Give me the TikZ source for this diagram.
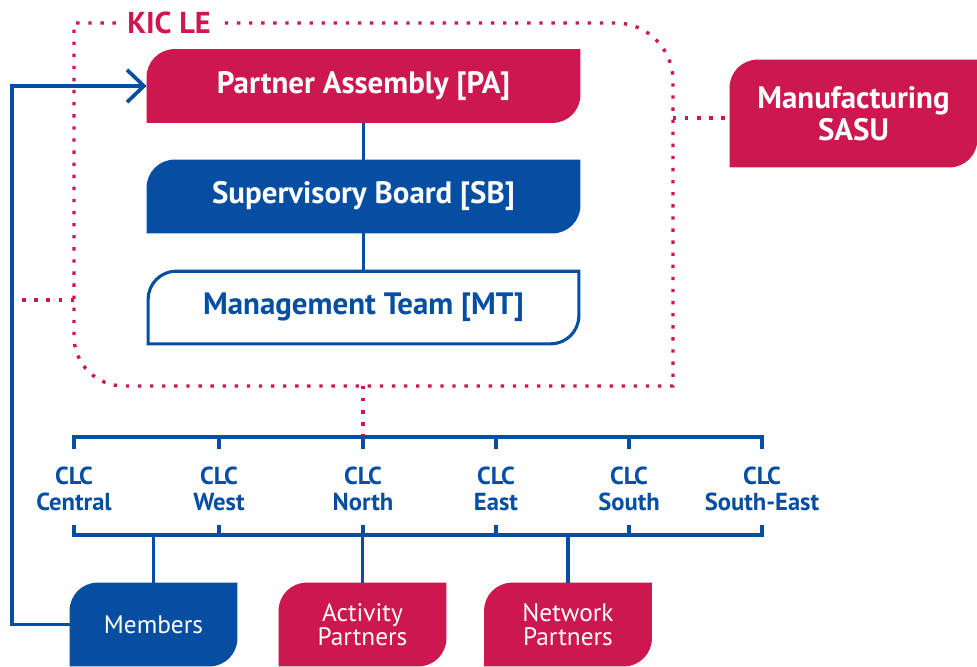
\documentclass[tikz,border=0pt]{standalone}
\usepackage{fontspec}
\setmainfont{PT Sans}
\usepackage{tikz}
\usetikzlibrary{arrows.meta,positioning,backgrounds}

\definecolor{kicred}{RGB}{204,24,78}
\definecolor{kicblue}{RGB}{5,78,162}

\tikzset{
  board/.style={minimum width=10.83cm, minimum height=1.83cm, inner sep=0pt, font=\fontsize{22}{24}\selectfont\bfseries},
  leaf/.style={minimum width=4.18cm, minimum height=2.08cm, inner sep=0pt, text=white, align=center, font=\fontsize{18}{17.5}\selectfont},
  clc/.style={align=center, inner sep=0pt, text=kicblue, font=\fontsize{17.5}{18}\selectfont\bfseries},
  bus/.style={kicblue, line width=3pt},
  wire/.style={kicblue, line width=2.6pt},
  kicdots/.style={kicred, line width=2.4pt, dash pattern=on 2.4pt off 6.2pt},
}
\newcommand{\cornerbox}[2]{%
  \path[#2] (#1.south west) [rounded corners=0.7cm] -- (#1.north west) [sharp corners] -- (#1.north east) [rounded corners=0.7cm] -- (#1.south east) [sharp corners] -- cycle;}

\begin{document}
\begin{tikzpicture}[x=0.025cm, y=-0.025cm]
   \useasboundingbox (0,0) rectangle (977,666);

   \node[board, text=white] (pa) at (363.5,86) {Partner Assembly [PA]};
   \node[board, text=white] (sb) at (363.5,196.5) {Supervisory Board [SB]};
   \node[board, text=kicblue, minimum width=10.75cm, minimum height=1.8cm] (mt) at (363.5,307.5) {Management Team [MT]};
   \node[leaf, minimum width=6.18cm, minimum height=2.68cm, font=\fontsize{22}{22.5}\selectfont\bfseries] (sasu) at (853.5,113.5) {Manufacturing\\SASU};
   \node[text=kicred, inner xsep=8pt, font=\fontsize{21.5}{23}\selectfont\bfseries] (kic) at (169,23) {KIC LE};

   \node[clc] (clcc) at (74,489) {CLC\\Central};
   \node[clc] (clcw) at (219,489) {CLC\\West};
   \node[clc] (clcn) at (363,489) {CLC\\North};
   \node[clc] (clce) at (496,489) {CLC\\East};
   \node[clc] (clcs) at (629,489) {CLC\\South};
   \node[clc] (clcse) at (762,489) {CLC\\South-East};

   \node[leaf] (members) at (153.5,624.5) {Members};
   \node[leaf] (activity) at (362.5,624.5) {Activity\\Partners};
   \node[leaf] (network) at (568,624.5) {Network\\Partners};

   \coordinate (kicright) at (673,118);
   \coordinate (kicbottom) at (363,386);
   \coordinate (kicleft) at (74,300);
   \coordinate (feedback) at (12,300);
   \coordinate (topbus) at (363,437);
   \coordinate (botbus) at (363,535);

   \begin{scope}[on background layer]
     \cornerbox{pa}{fill=kicred}
     \cornerbox{sb}{fill=kicblue}
     \cornerbox{mt}{fill=white, draw=kicblue, line width=2.2pt}
     \cornerbox{sasu}{fill=kicred}
     \cornerbox{members}{fill=kicblue}
     \cornerbox{activity}{fill=kicred}
     \cornerbox{network}{fill=kicred}
   \end{scope}

  \draw[kicdots] (kic.west) -- (74,23) -- (74,336) .. controls (74,364) and (96,386) .. (124,386)
    -- (673,386) -- (673,80) .. controls (673,49) and (647,23) .. (616,23) -- (kic.east);
  \draw[kicdots] (kicright) -- (kicright -| sasu.west);
  \draw[kicdots] (kicleft) -- (feedback);
  \draw[kicdots] (kicbottom) -- (topbus);

  \path[wire]
    (pa) edge (sb)
    (sb) edge (mt);

  \draw[bus] (clcc |- topbus) ++(0,12) -- (clcc |- topbus) -- (clcse |- topbus) -- ++(0,12);
  \draw[bus] (clcc |- botbus) ++(0,-10) -- (clcc |- botbus) -- (clcse |- botbus) -- ++(0,-10);
  \draw[bus] (clcw |- topbus) -- ++(0,12) (clcn |- topbus) -- ++(0,12) (clce |- topbus) -- ++(0,12) (clcs |- topbus) -- ++(0,12);
  \draw[bus] (clcw |- botbus) -- ++(0,-10) (clcn |- botbus) -- ++(0,-10) (clce |- botbus) -- ++(0,-10) (clcs |- botbus) -- ++(0,-10);

  \path[wire]
    (members |- botbus) edge (members)
    (activity |- botbus) edge (activity)
    (network |- botbus) edge (network);

  \draw[wire, -{Straight Barb[length=12pt, width=23pt]}] (members.west) -| (feedback) |- (pa.west);
\end{tikzpicture}
\end{document}
